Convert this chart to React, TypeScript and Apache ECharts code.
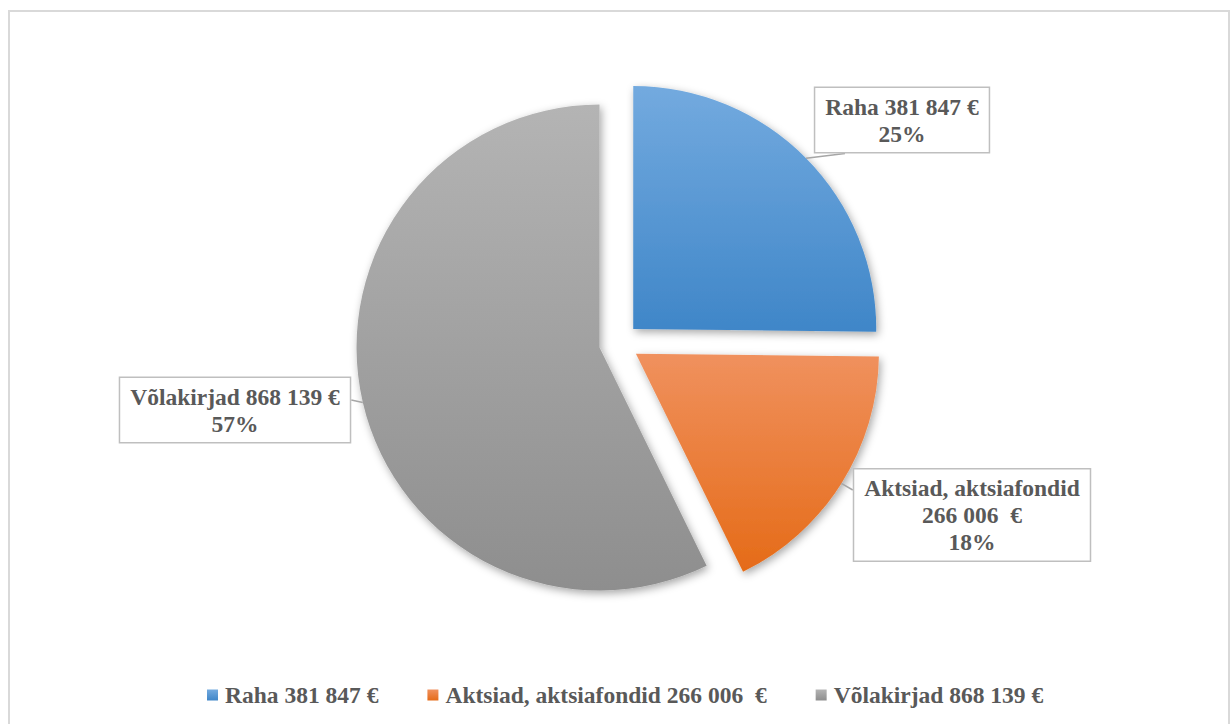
import React, { useEffect, useRef } from 'react';
import * as echarts from 'echarts';

// ---- data ----
const categories = ['Raha 381 847 €', 'Aktsiad, aktsiafondid 266 006  €', 'Võlakirjad 868 139 €'];
const values = [381847, 266006, 868139];
const labelTexts = ['Raha 381 847 €', 'Aktsiad, aktsiafondid\n266 006  €', 'Võlakirjad 868 139 €'];

// ---- styles ----
const colorsTop = ['#73aadf', '#f0915e', '#b4b4b4'];
const colorsBottom = ['#3f86c8', '#e56b18', '#8e8e8e'];
const FONT = '"Liberation Serif", "Times New Roman", serif';
const TEXT = '#595959';
const EXPLODE = 20;
const RADIUS = 243;

// label box centres (layout only)
const labelCenters: number[][] = [
  [902, 120],
  [972, 515],
  [235, 410],
];

export default function App() {
  const ref = useRef<HTMLDivElement>(null);
  useEffect(() => {
    if (!ref.current) return;
    const chart = echarts.init(ref.current, undefined, { renderer: 'svg' });
    const sliceData = categories.map((name, i) => ({
      name,
      value: values[i],
      selected: true,
      itemStyle: {
        color: new echarts.graphic.LinearGradient(0, 0, 0, 1, [
          { offset: 0, color: colorsTop[i] },
          { offset: 1, color: colorsBottom[i] },
        ]),
      },
    }));
    const labelData = categories.map((name, i) => ({ name, value: values[i] }));
    chart.setOption({
      animation: false,
      backgroundColor: '#ffffff',
      graphic: [
        {
          type: 'rect',
          shape: { x: 9, y: 11, width: 1220, height: 730 },
          style: { fill: 'none', stroke: '#d9d9d9', lineWidth: 2 },
          silent: true,
          z: 0,
        },
      ],
      legend: {
        data: categories,
        left: 202,
        top: 678,
        icon: 'rect',
        itemWidth: 11,
        itemHeight: 11,
        itemGap: 49,
        selectedMode: false,
        textStyle: {
          fontFamily: FONT,
          fontWeight: 'bold',
          fontSize: 23.5,
          color: TEXT,
          padding: [0, 0, 0, 2],
        },
      },
      series: [
        {
          type: 'pie',
          name: 'slices',
          center: [619, 343],
          radius: RADIUS,
          startAngle: 90,
          clockwise: true,
          selectedMode: 'multiple',
          selectedOffset: EXPLODE,
          avoidLabelOverlap: false,
          emphasis: { disabled: true },
          itemStyle: {
            shadowBlur: 8,
            shadowColor: 'rgba(0,0,0,0.35)',
            shadowOffsetX: 2,
            shadowOffsetY: 3,
          },
          label: { show: false },
          labelLine: { show: false },
          data: sliceData,
          z: 2,
        },
        {
          type: 'pie',
          name: 'labels',
          center: [619, 343],
          radius: RADIUS + EXPLODE,
          startAngle: 90,
          clockwise: true,
          silent: true,
          selectedMode: false,
          avoidLabelOverlap: false,
          percentPrecision: 0,
          emphasis: { disabled: true },
          itemStyle: { color: 'rgba(0,0,0,0)' },
          label: {
            show: true,
            position: 'outside',
            formatter: (p: any) => labelTexts[p.dataIndex] + '\n' + p.percent + '%',
            fontFamily: FONT,
            fontWeight: 'bold',
            fontSize: 23.5,
            lineHeight: 27,
            color: TEXT,
            align: 'center',
            backgroundColor: '#ffffff',
            borderColor: '#bfbfbf',
            borderWidth: 1.5,
            padding: [5, 10, 5, 10],
          },
          labelLine: {
            show: true,
            length: 10,
            length2: 10,
            lineStyle: { color: '#a6a6a6', width: 1.5 },
          },
          labelLayout: (params: any) => {
            const i = params.dataIndex;
            const [cx, cy] = labelCenters[i];
            const w = params.labelRect.width;
            const h = params.labelRect.height;
            const pts = params.labelLinePoints;
            let end: number[];
            if (i === 0) end = [845, cy + h / 2];
            else if (i === 1) end = [cx - w / 2, cy - 25];
            else end = [cx + w / 2, cy - 10];
            const res: any = { x: cx, y: cy, align: 'center', verticalAlign: 'middle' };
            if (pts) res.labelLinePoints = [pts[0], pts[0], end];
            return res;
          },
          data: labelData,
          z: 3,
        },
      ],
    });
    return () => chart.dispose();
  }, []);
  return (
    <div
      ref={ref}
      style={{ position: 'fixed', left: 0, top: 0, width: 1230, height: 724, background: '#fff' }}
    />
  );
}
